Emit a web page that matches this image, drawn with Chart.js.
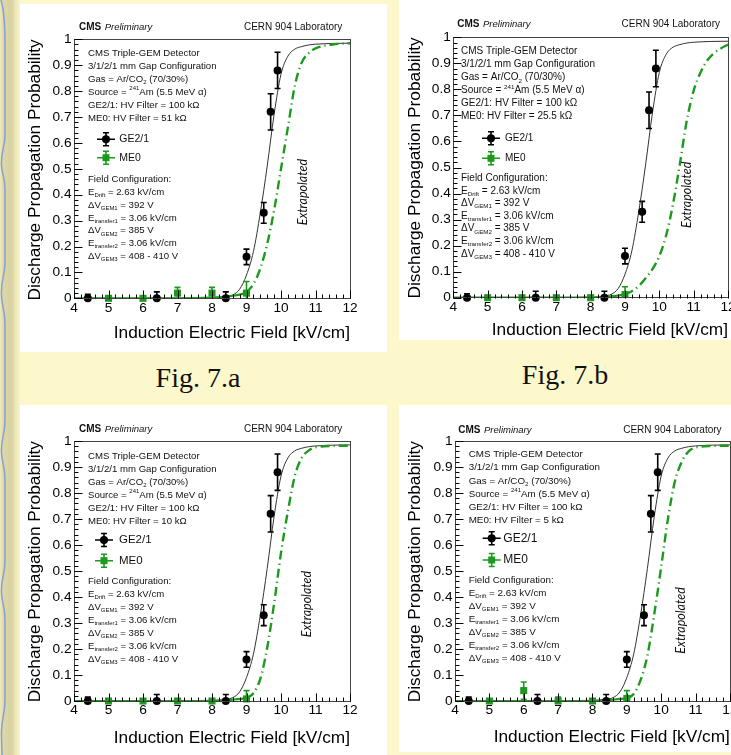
<!DOCTYPE html>
<html>
<head>
<meta charset="utf-8">
<script src="https://cdn.jsdelivr.net/npm/chart.js@4.4.0/dist/chart.umd.min.js"></script>
<style>
  body { margin: 0; width: 731px; height: 755px; overflow: hidden; position: relative; background: #fdf8cb; }
  .sheet { position: absolute; background: #fff; }
  canvas { position: absolute; }
  .caption { position: absolute; width: 120px; text-align: center; font-family: "Liberation Serif", "Times New Roman", serif; font-size: 28px; line-height: 28px; color: #111; }
</style>
</head>
<body>
<svg width="20" height="755" style="position:absolute;left:0;top:0">
  <defs>
    <linearGradient id="edgeGrad" x1="0" x2="1" y1="0" y2="0">
      <stop offset="0" stop-color="#eee8bd"/>
      <stop offset="0.2" stop-color="#dcd6a6"/>
      <stop offset="0.6" stop-color="#d9d3a3"/>
      <stop offset="0.75" stop-color="#ebe5b7"/>
      <stop offset="1" stop-color="#f9f4c9"/>
    </linearGradient>
  </defs>
  <rect width="20" height="755" fill="url(#edgeGrad)"/>
  <path d="M1,0 C4,10 5,25 5,45 L5,135 C5,148 1,150 1.5,165 C2,176 5,176 5,190 L5,262 C5,276 1,278 1.5,295 C2,308 5,310 5,325 L5,420 C5,435 1,438 1.5,452 C2,465 5,466 5,480 L5,560 C5,575 1,578 1.5,592 C2,605 5,606 5,620 L5,700 C5,715 1,720 1.5,735 L2,755"
        stroke="#86a3d5" stroke-width="1.6" fill="none"/>
</svg>

<div class="sheet" style="left:20px;top:4px;width:367px;height:348px"></div>
<div class="sheet" style="left:399px;top:0px;width:332px;height:340px"></div>
<div class="sheet" style="left:20px;top:405px;width:367px;height:350px"></div>
<div class="sheet" style="left:399px;top:405px;width:332px;height:347px"></div>

<div class="caption" style="left:138px;top:364px">Fig. 7.a</div>
<div class="caption" style="left:505px;top:361px">Fig. 7.b</div>

<canvas id="c1" width="367" height="360" style="left:20px;top:0px"></canvas>
<canvas id="c2" width="340" height="360" style="left:399px;top:0px"></canvas>
<canvas id="c3" width="367" height="355" style="left:20px;top:400px"></canvas>
<canvas id="c4" width="340" height="355" style="left:399px;top:400px"></canvas>

<script>
// GE2/1 measurement (same in every panel)
const ge21Field = [4.4, 6.4, 8.4, 9.0, 9.5, 9.7, 9.9];
const ge21Prob = [0, 0, 0, 0.16, 0.33, 0.72, 0.88];
const ge21Err = [0.015, 0.025, 0.025, 0.03, 0.04, 0.07, 0.07];

// GE2/1 fit curve
const ge21FitField = [4, 8.0, 8.2, 8.4, 8.6, 8.8, 9.0, 9.2, 9.4, 9.6, 9.8, 10.0, 10.2, 10.4, 10.6, 10.8, 11.0, 11.5, 12];
const ge21FitProb = [0, 0.001, 0.003, 0.007, 0.013, 0.035, 0.09, 0.18, 0.33, 0.51, 0.71, 0.865, 0.935, 0.962, 0.972, 0.978, 0.981, 0.984, 0.985];

// ME0 points per HV filter
const me0Field = [5, 6, 7, 8, 9];
const me0Prob51k = [0, 0, 0.02, 0.02, 0.02];
const me0Err51k = [0.005, 0.005, 0.022, 0.022, 0.045];
const me0Prob25k = [0, 0, 0, 0, 0.012];
const me0Err25k = [0.005, 0.005, 0.005, 0.005, 0.03];
const me0Prob10k = [0, 0, 0, 0, 0.008];
const me0Err10k = [0.005, 0.005, 0.005, 0.005, 0.032];
const me0Prob5k = [0, 0.04, 0, 0, 0.01];
const me0Err5k = [0.005, 0.033, 0.015, 0.005, 0.03];

// ME0 fit curves (solid up to 9 kV/cm, extrapolated after)
const me0FitField51k = [4, 7, 8, 8.5, 8.8, 9.0, 9.2, 9.4, 9.6, 9.8, 10.0, 10.2, 10.4, 10.6, 10.8, 11.0, 11.5, 12];
const me0FitProb51k = [0, 0, 0.003, 0.008, 0.014, 0.022, 0.055, 0.115, 0.21, 0.34, 0.5, 0.66, 0.82, 0.91, 0.946, 0.965, 0.98, 0.985];
const me0FitField25k = [4, 7, 8, 8.5, 9.0, 9.2, 9.4, 9.6, 9.8, 10.0, 10.2, 10.4, 10.6, 10.8, 11.0, 11.2, 11.4, 11.6, 11.8, 12];
const me0FitProb25k = [0, 0, 0.001, 0.004, 0.012, 0.025, 0.045, 0.075, 0.11, 0.16, 0.24, 0.36, 0.515, 0.68, 0.795, 0.865, 0.912, 0.94, 0.958, 0.972];
const me0FitField10k = [4, 7, 8, 8.5, 9.0, 9.2, 9.4, 9.6, 9.8, 10.0, 10.2, 10.4, 10.6, 10.8, 11.0, 11.5, 12];
const me0FitProb10k = [0, 0, 0.001, 0.004, 0.01, 0.03, 0.085, 0.205, 0.375, 0.57, 0.73, 0.865, 0.935, 0.963, 0.976, 0.981, 0.982];
const me0FitField5k = [4, 7, 8, 8.5, 9.0, 9.2, 9.4, 9.6, 9.8, 10.0, 10.2, 10.4, 10.6, 10.8, 11.0, 11.5, 12];
const me0FitProb5k = [0, 0, 0.001, 0.004, 0.01, 0.027, 0.08, 0.175, 0.335, 0.515, 0.703, 0.845, 0.92, 0.96, 0.975, 0.981, 0.982];

const fieldRange = [4, 12];
const probRange = [0, 1];

const GREEN = '#1d9a1d';
const SANS = '"Liberation Sans", Arial, sans-serif';
Chart.defaults.font.family = SANS;

const panels = [
    { id: 'c1', w: 367, h: 360, plotLeft: 54, plotTop: 39.3, plotRight: 330, plotBottom: 298.3,
      yTitlePad: 4.8, xTitlePad: 16.5, infoDx: 14, infoDy: 14, infoStep: 13, infoSize: 9.6,
      legDy: [100, 118.4], legMarkDx: 32, legTextDx: 45.3, legSize: 10.5, fieldDy: 139.7, fieldStep: 12.95,
      headDx: 5, headDy: -12, labRight: -7.7, extra: [10.64, 0.41], filter: '51 kΩ',
      prob: me0Prob51k, err: me0Err51k, fitField: me0FitField51k, fitProb: me0FitProb51k },
    { id: 'c2', w: 340, h: 360, plotLeft: 54.3, plotTop: 37.3, plotRight: 329, plotBottom: 297.7,
      yTitlePad: 5.8, xTitlePad: 19.8, infoDx: 7.7, infoDy: 14.4, infoStep: 13, infoSize: 10,
      legDy: [101, 121], legMarkDx: 37.7, legTextDx: 51.7, legSize: 10, fieldDy: 141, fieldStep: 12.6,
      headDx: 4, headDy: -13.3, labRight: -8, extra: [10.8, 0.395], filter: '25.5 kΩ',
      prob: me0Prob25k, err: me0Err25k, fitField: me0FitField25k, fitProb: me0FitProb25k },
    { id: 'c3', w: 367, h: 355, plotLeft: 54, plotTop: 41, plotRight: 330, plotBottom: 301,
      yTitlePad: 4.8, xTitlePad: 6.5, infoDx: 14, infoDy: 15, infoStep: 13, infoSize: 9.6,
      legDy: [99, 119.7], legMarkDx: 30, legTextDx: 45, legSize: 11.5, fieldDy: 140.3, fieldStep: 13,
      headDx: 5, headDy: -11.7, labRight: -7.7, extra: [10.74, 0.373], filter: '10 kΩ',
      prob: me0Prob10k, err: me0Err10k, fitField: me0FitField10k, fitProb: me0FitProb10k },
    { id: 'c4', w: 340, h: 355, plotLeft: 56, plotTop: 41, plotRight: 331, plotBottom: 301,
      yTitlePad: 5.8, xTitlePad: 7.5, infoDx: 13.7, infoDy: 13.7, infoStep: 13.05, infoSize: 9.8,
      legDy: [97.3, 119], legMarkDx: 36.7, legTextDx: 48.3, legSize: 12, fieldDy: 139, fieldStep: 13.05,
      headDx: 3.3, headDy: -11, labRight: -8.3, extra: [10.59, 0.31], filter: '5 kΩ',
      prob: me0Prob5k, err: me0Err5k, fitField: me0FitField5k, fitProb: me0FitProb5k }
];

function toPts(xs, ys) {
    return xs.map((v, i) => ({ x: v, y: ys[i] }));
}

// draws text with sub/superscript pieces, parts = [[text, 'sub'|'sup'|''], ...]
function drawRich(ctx, x, y, parts, size) {
    let cx = x;
    parts.forEach(([t, kind]) => {
        const s = kind ? size * 0.62 : size;
        ctx.font = s + 'px ' + SANS;
        const dy = kind === 'sub' ? size * 0.32 : kind === 'sup' ? -size * 0.36 : 0;
        ctx.fillText(t, cx, y + dy);
        cx += ctx.measureText(t).width;
    });
}

// error bars for datasets carrying an "errors" array
const errorBars = {
    id: 'errorBars',
    afterDatasetsDraw(chart) {
        const { ctx, chartArea: a, scales: { x, y } } = chart;
        ctx.save();
        ctx.beginPath();
        ctx.rect(a.left, a.top - 2, a.right - a.left, a.bottom - a.top + 2);
        ctx.clip();
        chart.data.datasets.forEach(ds => {
            if (!ds.errors) return;
            ctx.strokeStyle = ds.borderColor;
            ctx.lineWidth = 1.6;
            ds.data.forEach((p, i) => {
                const px = x.getPixelForValue(p.x);
                const top = y.getPixelForValue(p.y + ds.errors[i]);
                const bot = y.getPixelForValue(p.y - ds.errors[i]);
                ctx.beginPath();
                ctx.moveTo(px, top); ctx.lineTo(px, bot);
                ctx.moveTo(px - 3, top); ctx.lineTo(px + 3, top);
                ctx.moveTo(px - 3, bot); ctx.lineTo(px + 3, bot);
                ctx.stroke();
            });
        });
        ctx.restore();
    }
};

function overlay(p) {
    return {
        id: 'overlay',
        afterDraw(chart) {
            const { ctx, chartArea: a, scales: { x, y } } = chart;
            ctx.save();

            // frame
            ctx.strokeStyle = '#444';
            ctx.lineWidth = 1;
            ctx.strokeRect(Math.round(a.left) + 0.5, Math.round(a.top) + 0.5,
                Math.round(a.right - a.left), Math.round(a.bottom - a.top));

            // ROOT style inward ticks
            ctx.strokeStyle = '#000';
            ctx.beginPath();
            const bottom = Math.round(a.bottom) + 0.5;
            const left = Math.round(a.left) + 0.5;
            const nx = Math.round((x.max - x.min) / 0.2);
            for (let i = 0; i <= nx; i++) {
                const px = Math.round(x.getPixelForValue(x.min + i * 0.2)) + 0.5;
                const len = i % 5 === 0 ? 8 : 4;
                ctx.moveTo(px, bottom); ctx.lineTo(px, bottom - len);
            }
            const ny = Math.round((y.max - y.min) / 0.02);
            for (let i = 0; i <= ny; i++) {
                const py = Math.round(y.getPixelForValue(y.min + i * 0.02)) + 0.5;
                const len = i % 5 === 0 ? 8 : 4;
                ctx.moveTo(left, py); ctx.lineTo(left + len, py);
            }
            ctx.stroke();

            ctx.fillStyle = '#111';
            ctx.textBaseline = 'middle';
            ctx.textAlign = 'left';

            // header
            ctx.font = 'bold 10px ' + SANS;
            ctx.fillText('CMS', a.left + p.headDx, a.top + p.headDy);
            const cmsW = ctx.measureText('CMS').width;
            ctx.font = 'italic 9.5px ' + SANS;
            ctx.fillText('Preliminary', a.left + p.headDx + cmsW + 3.5, a.top + p.headDy);
            ctx.font = '10px ' + SANS;
            ctx.textAlign = 'right';
            ctx.fillText('CERN 904 Laboratory', a.right + p.labRight, a.top + p.headDy);
            ctx.textAlign = 'left';

            // detector description
            const info = [
                [['CMS Triple-GEM Detector', '']],
                [['3/1/2/1 mm Gap Configuration', '']],
                [['Gas = Ar/CO', ''], ['2', 'sub'], [' (70/30%)', '']],
                [['Source = ', ''], ['241', 'sup'], ['Am (5.5 MeV α)', '']],
                [['GE2/1: HV Filter = 100 kΩ', '']],
                [['ME0: HV Filter = ' + p.filter, '']]
            ];
            info.forEach((parts, i) => {
                drawRich(ctx, a.left + p.infoDx, a.top + p.infoDy + i * p.infoStep, parts, p.infoSize);
            });

            const field = [
                [['Field Configuration:', '']],
                [['E', ''], ['Drift', 'sub'], [' = 2.63 kV/cm', '']],
                [['ΔV', ''], ['GEM1', 'sub'], [' = 392 V', '']],
                [['E', ''], ['transfer1', 'sub'], [' = 3.06 kV/cm', '']],
                [['ΔV', ''], ['GEM2', 'sub'], [' = 385 V', '']],
                [['E', ''], ['transfer2', 'sub'], [' = 3.06 kV/cm', '']],
                [['ΔV', ''], ['GEM3', 'sub'], [' = 408 - 410 V', '']]
            ];
            field.forEach((parts, i) => {
                drawRich(ctx, a.left + p.infoDx, a.top + p.fieldDy + i * p.fieldStep, parts, p.infoSize);
            });

            // legend
            const entries = [chart.data.datasets[0], chart.data.datasets[1]];
            entries.forEach((ds, i) => {
                const cx = a.left + p.legMarkDx;
                const cy = a.top + p.legDy[i];
                ctx.strokeStyle = ds.borderColor;
                ctx.fillStyle = ds.backgroundColor;
                ctx.lineWidth = 1.6;
                ctx.beginPath();
                ctx.moveTo(cx - 9, cy); ctx.lineTo(cx + 9, cy);
                ctx.moveTo(cx, cy - 6.5); ctx.lineTo(cx, cy + 6.5);
                ctx.moveTo(cx - 3, cy - 6.5); ctx.lineTo(cx + 3, cy - 6.5);
                ctx.moveTo(cx - 3, cy + 6.5); ctx.lineTo(cx + 3, cy + 6.5);
                ctx.stroke();
                ctx.beginPath();
                if (ds.pointStyle === 'rect') ctx.rect(cx - 3.5, cy - 3.5, 7, 7);
                else ctx.arc(cx, cy, 4, 0, Math.PI * 2);
                ctx.fill();
                ctx.fillStyle = '#111';
                ctx.font = p.legSize + 'px ' + SANS;
                ctx.fillText(ds.label, a.left + p.legTextDx, cy);
            });

            // extrapolation note
            ctx.save();
            ctx.translate(x.getPixelForValue(p.extra[0]), y.getPixelForValue(p.extra[1]));
            ctx.rotate(-Math.PI / 2);
            ctx.textAlign = 'center';
            ctx.fillStyle = '#111';
            ctx.font = 'italic 12.5px Lato, "Open Sans", sans-serif';
            ctx.fillText('Extrapolated', 0, 0);
            ctx.restore();

            ctx.restore();
        }
    };
}

function makeChart(p) {
    const fit = toPts(p.fitField, p.fitProb);
    const fitSolid = fit.filter(pt => pt.x <= 9);
    const fitExtrap = fit.filter(pt => pt.x >= 9);

    new Chart(document.getElementById(p.id), {
        type: 'scatter',
        data: {
            datasets: [
                { label: 'GE2/1', data: toPts(ge21Field, ge21Prob), errors: ge21Err,
                  backgroundColor: '#000', borderColor: '#000', pointStyle: 'circle',
                  pointRadius: 4, pointBorderWidth: 0, clip: false, order: 0 },
                { label: 'ME0', data: toPts(me0Field, p.prob), errors: p.err,
                  backgroundColor: GREEN, borderColor: GREEN, pointStyle: 'rect',
                  pointRadius: 5, pointBorderWidth: 0, clip: false, order: 1 },
                { label: 'ME0 fit', data: fitSolid, showLine: true, borderColor: GREEN, borderWidth: 2.2,
                  pointRadius: 0, cubicInterpolationMode: 'monotone', order: 2 },
                { label: 'ME0 extrapolated', data: fitExtrap, showLine: true, borderColor: GREEN, borderWidth: 2.4,
                  borderDash: [9, 4, 1.2, 4], pointRadius: 0, cubicInterpolationMode: 'monotone', order: 3 },
                { label: 'GE2/1 fit', data: toPts(ge21FitField, ge21FitProb), showLine: true, borderColor: '#333',
                  borderWidth: 1, pointRadius: 0, cubicInterpolationMode: 'monotone', order: 4 }
            ]
        },
        options: {
            responsive: false,
            animation: false,
            devicePixelRatio: 1,
            layout: { padding: { left: 0, top: p.plotTop, right: p.w - p.plotRight, bottom: 0 } },
            plugins: {
                legend: { display: false },
                tooltip: { enabled: false }
            },
            scales: {
                x: {
                    type: 'linear',
                    min: fieldRange[0],
                    max: fieldRange[1],
                    afterFit: s => { s.height = p.h - p.plotBottom; },
                    grid: { display: false, drawTicks: false },
                    border: { display: false },
                    ticks: { stepSize: 1, padding: 1.5, color: '#000', font: { size: 13.7 }, autoSkip: false, maxRotation: 0 },
                    title: { display: true, text: 'Induction Electric Field [kV/cm]', align: 'end', color: '#000',
                             font: { size: 17.3 }, padding: { top: 0, bottom: p.xTitlePad } }
                },
                y: {
                    min: probRange[0],
                    max: probRange[1],
                    afterFit: s => { s.width = p.plotLeft; },
                    grid: { display: false, drawTicks: false },
                    border: { display: false },
                    ticks: { stepSize: 0.1, padding: 2.5, color: '#000', font: { size: 13.7 }, autoSkip: false,
                             callback: v => Math.round(v * 10) / 10 },
                    title: { display: true, text: 'Discharge Propagation Probability', align: 'end', color: '#000',
                             font: { size: 17.3 }, padding: { top: p.yTitlePad, bottom: 0 } }
                }
            }
        },
        plugins: [errorBars, overlay(p)]
    });
}

panels.forEach(makeChart);
</script>
</body>
</html>
